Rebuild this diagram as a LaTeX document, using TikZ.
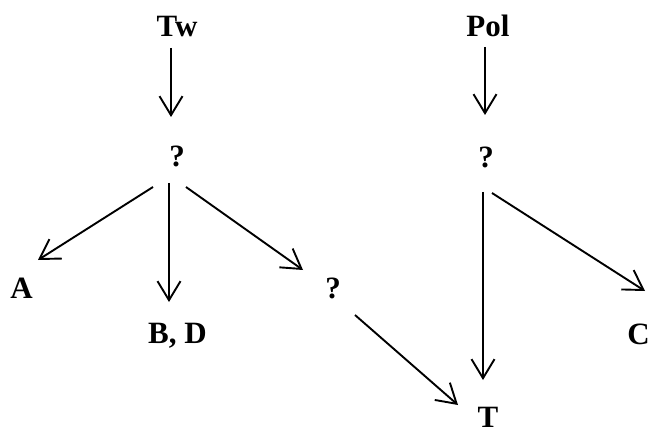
\documentclass[tikz,border=0pt]{standalone}
\usepackage{fontspec}
\setmainfont{Liberation Serif}
\usetikzlibrary{arrows.meta,calc}
\tikzset{
  lbl/.style={inner sep=0pt, anchor=base, font=\bfseries\fontsize{31}{36}\selectfont},
  arr/.style={line width=1.9pt, -{Straight Barb[length=19pt,width=23pt,line width=1.9pt]}}
}
\begin{document}
\begin{tikzpicture}[x=1pt,y=-1pt]
\useasboundingbox (0,0) rectangle (650,430);
\node[lbl] (tw) at (177,37) {Tw};
\node[lbl] (pol) at (488,37) {Pol};
\node[lbl] (q1) at (177,167) {?};
\node[lbl] (q2) at (486,168) {?};
\node[lbl] (A) at (21.5,298) {A};
\node[lbl] (BD) at (177.5,343) {B, D};
\node[lbl] (q3) at (333,298) {?};
\node[lbl] (T) at (488,427) {T};
\node[lbl] (C) at (638.5,344) {C};
\draw[arr] ($(tw.base)+(-6,11)$) -- ($(q1.base)+(-6,-50)$);
\draw[arr] ($(q1.base)+(-24,20)$) -- ($(A.base)+(16.5,-38)$);
\draw[arr] ($(q1.base)+(-8,16)$) -- ($(BD.base)+(-8.5,-41)$);
\draw[arr] ($(q1.base)+(9,20)$) -- ($(q3.base)+(-30,-28)$);
\draw[arr] ($(q3.base)+(22,17)$) -- ($(T.base)+(-30,-22)$);
\draw[arr] ($(pol.base)+(-3,10)$) -- ($(q2.base)+(-1,-53)$);
\draw[arr] ($(q2.base)+(-3,24)$) -- ($(T.base)+(-5,-47)$);
\draw[arr] ($(q2.base)+(6,25)$) -- ($(C.base)+(6.5,-53)$);
\end{tikzpicture}
\end{document}
